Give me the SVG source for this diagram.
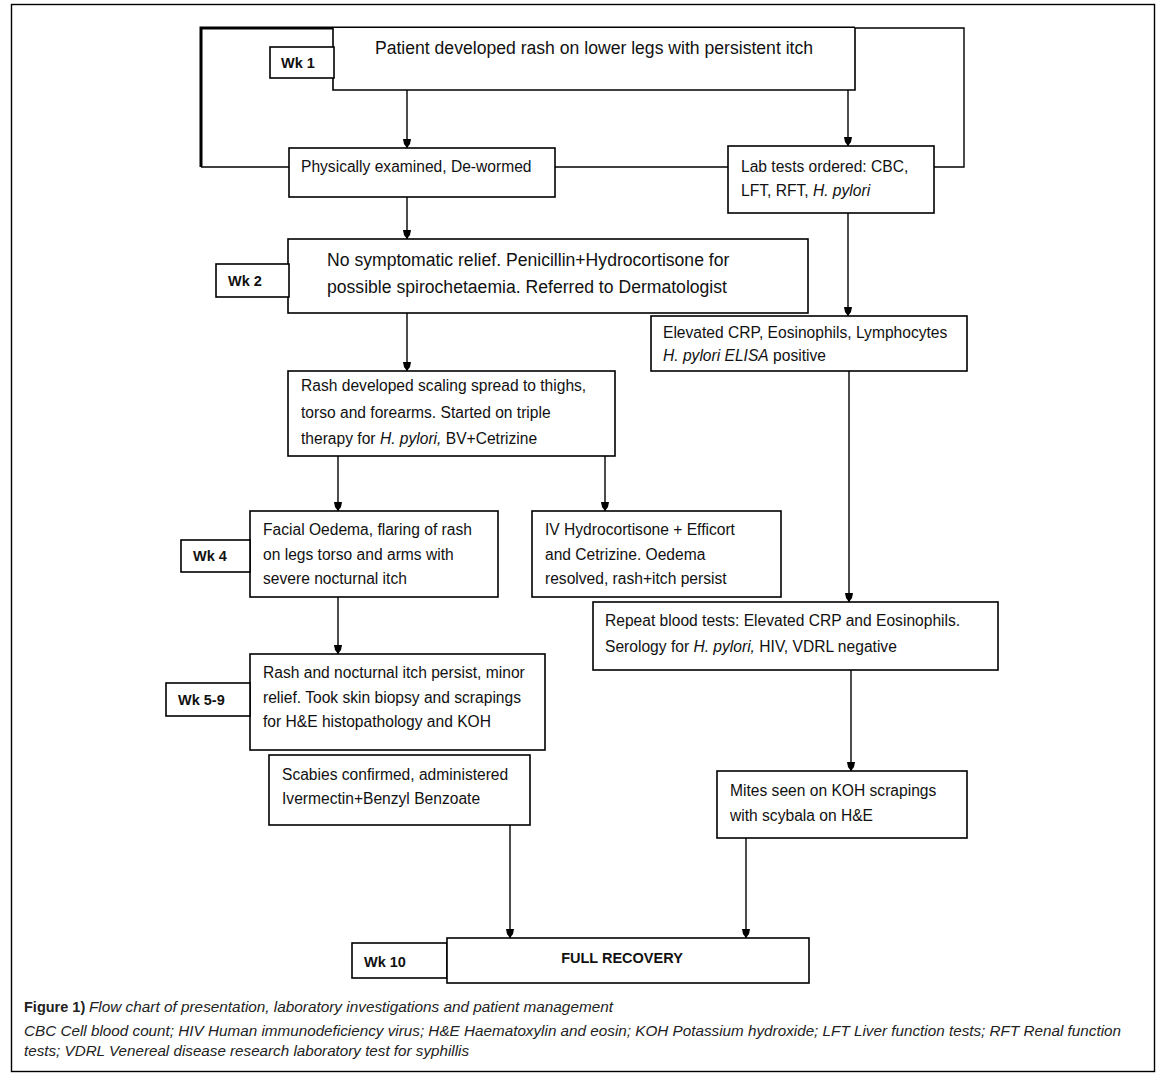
<svg xmlns="http://www.w3.org/2000/svg" width="1162" height="1077" viewBox="0 0 1162 1077">
<defs>
<marker id="ah" viewBox="0 0 9 8" refX="9" refY="4" markerWidth="9" markerHeight="8" markerUnits="userSpaceOnUse" orient="auto">
<path d="M0,0 L5,1 L9,4 L5,7 L0,8 Z" fill="#000"/>
</marker>
<style>
.box{fill:#fff;stroke:#000;stroke-width:1.6}
.lbl{fill:#fff;stroke:#000;stroke-width:1.6}
.t{font-family:"Liberation Sans",Arial,sans-serif;font-size:15.6px;fill:#111}
.tb{font-family:"Liberation Sans",Arial,sans-serif;font-size:14.5px;font-weight:bold;fill:#111}
.i{font-style:italic}
.cap{font-family:"Liberation Sans",Arial,sans-serif;font-size:15px;fill:#222;font-style:italic}
.conn{fill:none;stroke:#000;stroke-width:1.4}
.arr{fill:none;stroke:#000;stroke-width:1.4;marker-end:url(#ah)}
</style>
</defs>
<rect x="0" y="0" width="1162" height="1077" fill="#fff"/>
<rect id="frame" x="11.5" y="4.5" width="1143" height="1067" fill="none" stroke="#000" stroke-width="1.4"/>

<g id="connectors">
<path class="conn" d="M333,28 L201,28 L201,167" style="stroke-width:3"/>
<path class="conn" d="M201,167 L289,167"/>
<path class="conn" d="M333,28 L855,28" style="stroke-width:3"/>
<path class="conn" d="M855,28 L964,28 L964,167 L934,167"/>
<path class="conn" d="M555,167 L728,167"/>
<line class="arr" x1="407" y1="90" x2="407" y2="148"/>
<line class="arr" x1="848" y1="90" x2="848" y2="146"/>
<line class="arr" x1="407" y1="197" x2="407" y2="239"/>
<line class="arr" x1="848" y1="213" x2="848" y2="316"/>
<line class="arr" x1="407" y1="313" x2="407" y2="371"/>
<line class="arr" x1="338" y1="456" x2="338" y2="511"/>
<line class="arr" x1="605" y1="456" x2="605" y2="511"/>
<line class="arr" x1="849" y1="371" x2="849" y2="602"/>
<line class="arr" x1="338" y1="597" x2="338" y2="654"/>
<line class="arr" x1="851" y1="670" x2="851" y2="771"/>
<line class="arr" x1="510" y1="825" x2="510" y2="938"/>
<line class="arr" x1="746" y1="838" x2="746" y2="938"/>
</g>

<g id="n-top">
<rect class="box" x="333" y="28" width="522" height="62" style="stroke:none"/>
<path d="M333,28 L333,90 L855,90 L855,28" fill="none" stroke="#000" stroke-width="1.6"/>
<text class="t" x="594" y="54" text-anchor="middle" style="font-size:17.6px">Patient developed rash on lower legs with persistent itch</text>
</g>
<g id="wk1">
<rect class="lbl" x="270" y="47" width="64" height="31"/>
<text class="tb" x="281" y="68">Wk 1</text>
</g>
<g id="n-phys">
<rect class="box" x="289" y="148" width="266" height="49"/>
<text class="t" x="301" y="172">Physically examined, De-wormed</text>
</g>
<g id="n-lab">
<rect class="box" x="728" y="146" width="206" height="67"/>
<text class="t" x="741" y="172">Lab tests ordered: CBC,</text>
<text class="t" x="741" y="196">LFT, RFT, <tspan class="i">H. pylori</tspan></text>
</g>
<g id="n-wk2">
<rect class="box" x="288" y="239" width="520" height="74"/>
<text class="t" x="327" y="266" style="font-size:17.6px">No symptomatic relief. Penicillin+Hydrocortisone for</text>
<text class="t" x="327" y="293" style="font-size:17.6px">possible spirochetaemia. Referred to Dermatologist</text>
</g>
<g id="wk2">
<rect class="lbl" x="216" y="264" width="73" height="33"/>
<text class="tb" x="228" y="286">Wk 2</text>
</g>
<g id="n-elev">
<rect class="box" x="651" y="316" width="316" height="55"/>
<text class="t" x="663" y="338">Elevated CRP, Eosinophils, Lymphocytes</text>
<text class="t" x="663" y="361"><tspan class="i">H. pylori ELISA</tspan> positive</text>
</g>
<g id="n-rash">
<rect class="box" x="288" y="371" width="327" height="85"/>
<text class="t" x="301" y="391">Rash developed scaling spread to thighs,</text>
<text class="t" x="301" y="418">torso and forearms. Started on triple</text>
<text class="t" x="301" y="444">therapy for <tspan class="i">H. pylori,</tspan> BV+Cetrizine</text>
</g>
<g id="n-facial">
<rect class="box" x="250" y="511" width="248" height="86"/>
<text class="t" x="263" y="535">Facial Oedema, flaring of rash</text>
<text class="t" x="263" y="560">on legs torso and arms with</text>
<text class="t" x="263" y="584">severe nocturnal itch</text>
</g>
<g id="wk4">
<rect class="lbl" x="181" y="540" width="69" height="32"/>
<text class="tb" x="193" y="561">Wk 4</text>
</g>
<g id="n-iv">
<rect class="box" x="532" y="511" width="249" height="86"/>
<text class="t" x="545" y="535">IV Hydrocortisone + Efficort</text>
<text class="t" x="545" y="560">and Cetrizine. Oedema</text>
<text class="t" x="545" y="584">resolved, rash+itch persist</text>
</g>
<g id="n-repeat">
<rect class="box" x="593" y="602" width="405" height="68"/>
<text class="t" x="605" y="626">Repeat blood tests: Elevated CRP and Eosinophils.</text>
<text class="t" x="605" y="652">Serology for <tspan class="i">H. pylori,</tspan> HIV, VDRL negative</text>
</g>
<g id="n-persist">
<rect class="box" x="250" y="654" width="295" height="96"/>
<text class="t" x="263" y="678">Rash and nocturnal itch persist, minor</text>
<text class="t" x="263" y="703">relief. Took skin biopsy and scrapings</text>
<text class="t" x="263" y="727">for H&amp;E histopathology and KOH</text>
</g>
<g id="wk59">
<rect class="lbl" x="166" y="683" width="84" height="33"/>
<text class="tb" x="178" y="705">Wk 5-9</text>
</g>
<g id="n-scabies">
<rect class="box" x="269" y="755" width="261" height="70"/>
<text class="t" x="282" y="780">Scabies confirmed, administered</text>
<text class="t" x="282" y="804">Ivermectin+Benzyl Benzoate</text>
</g>
<g id="n-mites">
<rect class="box" x="717" y="771" width="250" height="67"/>
<text class="t" x="730" y="796">Mites seen on KOH scrapings</text>
<text class="t" x="730" y="821">with scybala on H&amp;E</text>
</g>
<g id="wk10">
<rect class="lbl" x="352" y="943" width="95" height="35"/>
<text class="tb" x="364" y="967">Wk 10</text>
</g>
<g id="n-full">
<rect class="box" x="447" y="938" width="362" height="45"/>
<text class="tb" x="622" y="963" text-anchor="middle">FULL RECOVERY</text>
</g>

<g id="caption">
<text class="cap" x="24" y="1012" style="font-style:normal;font-weight:bold;font-size:14.5px">Figure 1)</text>
<text class="cap" x="89" y="1012" textLength="524" lengthAdjust="spacingAndGlyphs">Flow chart of presentation, laboratory investigations and patient management</text>
<text class="cap" x="24" y="1036" textLength="1097" lengthAdjust="spacingAndGlyphs">CBC Cell blood count; HIV Human immunodeficiency virus; H&amp;E Haematoxylin and eosin; KOH Potassium hydroxide; LFT Liver function tests; RFT Renal function</text>
<text class="cap" x="24" y="1056" textLength="445" lengthAdjust="spacingAndGlyphs">tests; VDRL Venereal disease research laboratory test for syphillis</text>
</g>
</svg>
